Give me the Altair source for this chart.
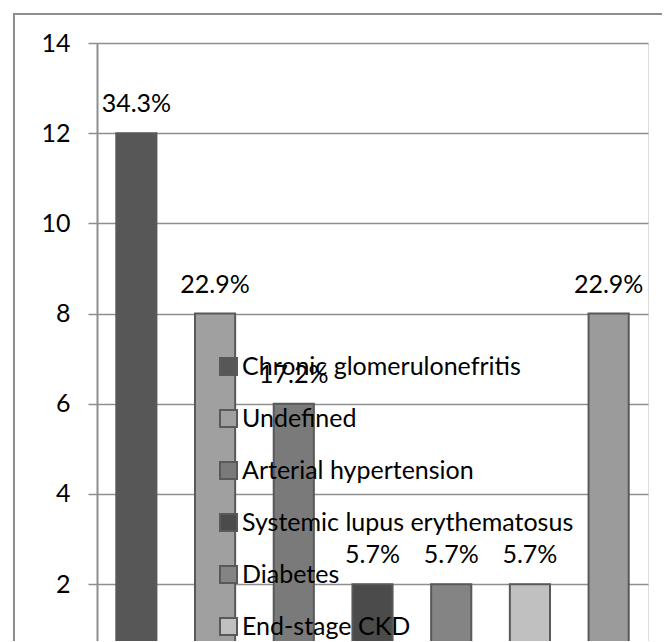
import altair as alt
import pandas as pd

categories = ["Chronic glomerulonefritis", "Undefined", "Arterial hypertension",
              "Systemic lupus erythematosus", "Diabetes", "End-stage CKD", "Other"]
counts = [12, 8, 6, 2, 2, 2, 8]
pct_labels = ["34.3%", "22.9%", "17.2%", "5.7%", "5.7%", "5.7%", "22.9%"]
bar_colors = ["#575757", "#a0a0a0", "#7a7a7a", "#4b4b4b", "#848484", "#c0c0c0", "#9b9b9b"]
legend_items = categories[:6]
y_ticks = [2, 4, 6, 8, 10, 12, 14]

FONT = "Lato"

df = pd.DataFrame({"cat": categories, "n": counts, "lab": pct_labels})

x_enc = alt.X("cat:N", sort=categories, axis=None,
              scale=alt.Scale(paddingInner=0.49, paddingOuter=0.245))
y_scale = alt.Scale(domain=[0.74, 14], zero=False, nice=False)

bars = alt.Chart(df).mark_bar(clip=True, stroke="#595959", strokeWidth=2).encode(
    x=x_enc,
    y=alt.Y("n:Q", scale=y_scale,
            axis=alt.Axis(values=y_ticks, title=None, grid=True, gridColor="#8e8e8e",
                          gridWidth=1.5, domainColor="#8e8e8e", domainWidth=2,
                          tickColor="#8e8e8e", tickSize=9, tickWidth=1.5,
                          labelFont=FONT, labelFontSize=25, labelColor="#000000",
                          labelPadding=18)),
    y2=alt.datum(0),
    color=alt.Color("cat:N",
                    scale=alt.Scale(domain=categories, range=bar_colors),
                    legend=alt.Legend(values=legend_items, title=None, orient="none",
                                      legendX=119, legendY=311, symbolType="square",
                                      symbolSize=289, symbolStrokeColor="#595959",
                                      symbolStrokeWidth=2, labelFont=FONT,
                                      labelFontSize=25, labelColor="#000000",
                                      labelOffset=1, rowPadding=26, padding=0,
                                      labelLimit=400)),
)

text = alt.Chart(df).mark_text(dy=-21, baseline="alphabetic", font=FONT,
                               fontSize=25, color="#000000").encode(
    x=x_enc,
    y=alt.Y("n:Q", scale=y_scale),
    text="lab:N",
)

frame_df = pd.DataFrame({"a": [0]})
frame_left = alt.Chart(frame_df).mark_rule(color="#8e8e8e", strokeWidth=2).encode(
    x=alt.value(-83), y=alt.value(-29), y2=alt.value(598))
frame_top = alt.Chart(frame_df).mark_rule(color="#8e8e8e", strokeWidth=2).encode(
    x=alt.value(-84), x2=alt.value(566), y=alt.value(-29))

chart = alt.layer(bars, text, frame_left, frame_top).properties(
    width=551, height=598,
    padding={"left": 89, "top": 35, "right": 14, "bottom": 0},
    autosize=alt.AutoSizeParams(type="none"),
).configure_view(fill="#e6e6e6", stroke=None).configure(background="#ffffff")

chart.save("out.html", embed_options={"renderer": "svg", "actions": False})
